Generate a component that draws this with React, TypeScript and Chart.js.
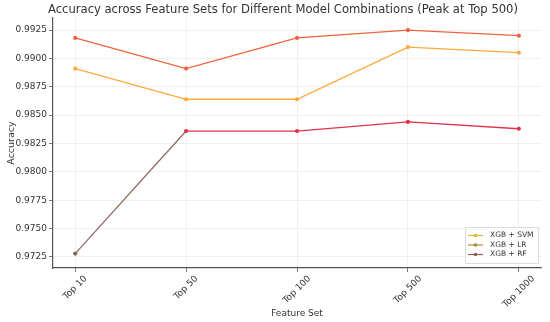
import React, { useEffect, useRef } from "react";
import { Chart, registerables } from "chart.js";

Chart.register(...registerables);

const categories = ["Top 10", "Top 50", "Top 100", "Top 500", "Top 1000"];
const svmValues = [0.9891, 0.9864, 0.9864, 0.991, 0.9905];
const lrValues = [0.9918, 0.9891, 0.9918, 0.9925, 0.992];
const rfValues = [0.9728, 0.9836, 0.9836, 0.9844, 0.9838];
const seriesNames = ["XGB + SVM", "XGB + LR", "XGB + RF"];
const titleText = "Accuracy across Feature Sets for Different Model Combinations (Peak at Top 500)";

const FONT = "'DejaVu Sans', sans-serif";

const legendColors = ["#d9b92b", "#a8903c", "#8a5e52"];

const titlePlugin = {
  id: "customTitle",
  afterDraw(chart: any) {
    const { ctx } = chart;
    ctx.save();
    ctx.font = `13px ${FONT}`;
    ctx.fillStyle = "#333";
    ctx.textBaseline = "middle";
    ctx.textAlign = "left";
    const w = ctx.measureText(titleText).width;
    const targetW = 470;
    ctx.translate(48, 10);
    ctx.scale(targetW / w, 1);
    ctx.fillText(titleText, 0, 0);
    ctx.restore();
  },
};

const xLabelPlugin = {
  id: "xLabels",
  afterDraw(chart: any) {
    const { ctx, chartArea } = chart;
    const xs = chart.scales.x;
    ctx.save();
    ctx.font = `9px ${FONT}`;
    ctx.fillStyle = "#333";
    ctx.textAlign = "center";
    ctx.textBaseline = "middle";
    const H = 9;
    const c = Math.SQRT1_2;
    categories.forEach((label, i) => {
      const W = ctx.measureText(label).width;
      const bbox = (W + H) * c;
      const px = xs.getPixelForValue(i);
      const top = chartArea.bottom + 6;
      ctx.save();
      ctx.translate(px, top + bbox / 2);
      ctx.rotate(-Math.PI / 4);
      ctx.fillText(label, 0, 0);
      ctx.restore();
    });
    ctx.restore();
  },
};

const legendPlugin = {
  id: "customLegend",
  afterDatasetsDraw(chart: any) {
    const { ctx, chartArea } = chart;
    const w = 73;
    const h = 36;
    const x = chartArea.right - w - 3;
    const y = chartArea.bottom - h - 5;
    ctx.save();
    ctx.fillStyle = "rgba(255,255,255,0.85)";
    ctx.strokeStyle = "#dcdcdc";
    ctx.lineWidth = 1;
    ctx.beginPath();
    ctx.rect(x + 0.5, y + 0.5, w, h);
    ctx.fill();
    ctx.stroke();
    ctx.font = `7.5px ${FONT}`;
    ctx.textBaseline = "middle";
    seriesNames.forEach((name, i) => {
      const cy = y + 8.5 + i * 9.5;
      ctx.strokeStyle = legendColors[i];
      ctx.lineWidth = 1.2;
      ctx.beginPath();
      ctx.moveTo(x + 3, cy);
      ctx.lineTo(x + 18, cy);
      ctx.stroke();
      ctx.fillStyle = legendColors[i];
      ctx.beginPath();
      ctx.arc(x + 10.5, cy, 1.8, 0, Math.PI * 2);
      ctx.fill();
      ctx.fillStyle = "#333";
      ctx.fillText(name, x + 25, cy);
    });
    ctx.restore();
  },
};

export default function App() {
  const ref = useRef<HTMLCanvasElement>(null);
  useEffect(() => {
    const toPts = (arr: number[]) => arr.map((v, i) => ({ x: i, y: v }));
    const common = { borderWidth: 1.3, pointRadius: 2.1, pointHoverRadius: 2.1, pointBorderWidth: 0 };
    const chart = new Chart(ref.current!, {
      type: "line",
      data: {
        datasets: [
          {
            label: seriesNames[1],
            data: toPts(lrValues),
            borderColor: "#f0623e",
            backgroundColor: "#f0623e",
            ...common,
          },
          {
            label: seriesNames[0],
            data: toPts(svmValues),
            borderColor: "#ffa83e",
            backgroundColor: "#ffa83e",
            ...common,
          },
          {
            label: seriesNames[2],
            data: toPts(rfValues),
            borderColor: "#e0324c",
            backgroundColor: (c: any) => (c.dataIndex === 0 ? "#8a5e52" : "#e0324c"),
            ...common,
            segment: {
              borderColor: (c: any) => (c.p0DataIndex === 0 ? "#8f6a60" : "#e0324c"),
            },
          } as any,
        ],
      },
      options: {
        animation: false,
        responsive: false,
        layout: { padding: { top: 18, right: 9, bottom: 0, left: 0 } },
        plugins: {
          legend: { display: false },
          tooltip: { enabled: false },
          title: { display: false },
        },
        scales: {
          x: {
            type: "linear",
            min: -0.2,
            max: 4.2,
            afterBuildTicks: (axis: any) => {
              axis.ticks = categories.map((_, i) => ({ value: i }));
            },
            afterFit: (axis: any) => {
              axis.height = 54;
            },
            ticks: {
              display: false,
            },
            grid: {
              color: "rgba(0,0,0,0.08)",
              lineWidth: 0.8,
              tickColor: "#555",
              tickLength: 4,
            },
            border: { color: "#555", width: 1.2 },
            title: {
              display: true,
              text: "Feature Set",
              color: "#333",
              font: { family: FONT, size: 9 },
              padding: { top: 0, bottom: 3 },
            },
          },
          y: {
            min: 0.97153,
            max: 0.99356,
            afterFit: (axis: any) => {
              axis.width = 53;
            },
            ticks: {
              stepSize: 0.0025,
              includeBounds: false,
              callback: (v: any) => Number(v).toFixed(4),
              color: "#333",
              font: { family: FONT, size: 9 },
              padding: 2,
            },
            grid: {
              color: "rgba(0,0,0,0.08)",
              lineWidth: 0.8,
              tickColor: "#555",
              tickLength: 4,
            },
            border: { color: "#555", width: 1.2 },
            title: {
              display: true,
              text: "Accuracy",
              color: "#333",
              font: { family: FONT, size: 9.5 },
              padding: { top: 6, bottom: 0 },
            },
          },
        },
      },
      plugins: [legendPlugin, titlePlugin, xLabelPlugin],
    } as any);
    return () => chart.destroy();
  }, []);
  return (
    <div style={{ position: "fixed", left: 0, top: 0, width: 550, height: 322, background: "#fff" }}>
      <canvas ref={ref} width={550} height={322} />
    </div>
  );
}
